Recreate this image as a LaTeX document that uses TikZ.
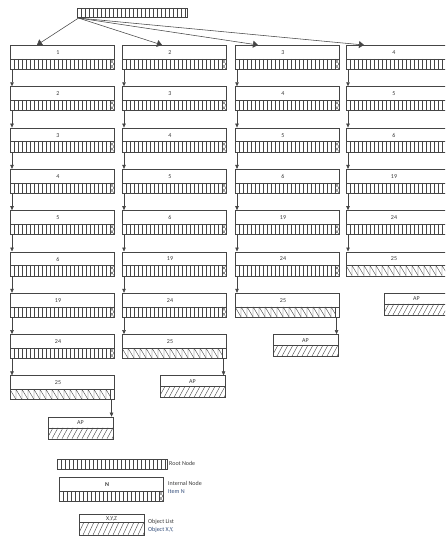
\documentclass[tikz,border=0pt]{standalone}
\usepackage{fontspec}
\setmainfont{Carlito}
\usetikzlibrary{arrows.meta,calc}
\definecolor{ln}{HTML}{454545}
\definecolor{tx}{HTML}{3A3A3A}
\definecolor{bl}{HTML}{2F4A78}
\tikzset{
  boxnode/.style={draw=ln, line width=0.55pt, rectangle, inner sep=0pt, anchor=north west, minimum width=104pt, minimum height=24pt},
  stripe/.style={draw=ln, line width=0.4pt},
  lbl/.style={text=tx, font=\fontsize{6}{7}\selectfont, inner sep=0pt},
  link/.style={draw=ln, line width=0.55pt, -{Triangle[width=3.5pt,length=4pt]}},
  rootlink/.style={draw=ln, line width=0.55pt, -{Triangle[width=7pt,length=5pt]}}
}
% internal node: name, left, top, label
\newcommand\mkinternal[4]{%
  \node[boxnode] (#1) at (#2,#3) {};
  \foreach \k in {1,...,24} \draw[stripe] (#2+4*\k,#3+14) -- (#2+4*\k,#3+24);
  \draw[stripe] (#2,#3+14) -- (#2+104,#3+14);
  \draw[stripe, line width=0.3pt] (#2+100,#3+14) -- (#2+104,#3+19) -- (#2+100,#3+24)
     (#2+104,#3+14) -- (#2+100,#3+19) -- (#2+104,#3+24);
  \draw[stripe] (#2+100,#3+14) -- (#2+100,#3+24);
  \node[lbl] (#1t) at (#2+48,#3+7.5) {#4};
}
% last internal node (hatched)
\newcommand\mklast[4]{%
  \node[boxnode] (#1) at (#2,#3) {};
  \begin{scope}
    \clip (#2,#3+14) rectangle (#2+100,#3+24);
    \foreach \k in {0,...,17} \draw[stripe] (#2+6*\k,#3+14) -- (#2+6*\k,#3+24) (#2+6*\k,#3+14) -- (#2+6*\k+6,#3+24);
  \end{scope}
  \draw[stripe] (#2,#3+14) -- (#2+104,#3+14) (#2+100,#3+14) -- (#2+100,#3+24);
  \node[lbl] (#1t) at (#2+48,#3+7.5) {#4};
}
% object list: name, left, top, top height, total height, label
\newcommand\mkobj[6]{%
  \node[boxnode, minimum width=65pt, minimum height=#5pt] (#1) at (#2,#3) {};
  \begin{scope}
    \clip (#2,#3+#4) rectangle (#2+65,#3+#5);
    \foreach \k in {0,...,15} \draw[stripe] (#2+5*\k-6,#3+#5) -- (#2+5*\k,#3+#4);
  \end{scope}
  \draw[stripe] (#2,#3+#4) -- (#2+65,#3+#4);
  \node[lbl] (#1t) at (#2+32.5,#3+#4/2+0.5) {#6};
}
% root node: name, left, top
\newcommand\mkroot[3]{%
  \node[boxnode, minimum width=110pt, minimum height=9.5pt] (#1) at (#2,#3) {};
  \foreach \k in {1,...,27} \draw[stripe] (#2+4*\k,#3) -- (#2+4*\k,#3+9.5);
}
\begin{document}
\begin{tikzpicture}[x=1pt,y=-1pt]
\useasboundingbox (0,0) rectangle (445,537);
\clip (0,0) rectangle (445,537);

\foreach \c/\L/\labs/\n in {1/10/{1,2,3,4,5,6,19,24}/8, 2/122/{2,3,4,5,6,19,24}/7, 3/235/{3,4,5,6,19,24}/6, 4/346/{4,5,6,19,24}/5}{
  \foreach \lab [count=\r from 0] in \labs {
    \pgfmathsetmacro\T{45+41.3*\r}
    \mkinternal{n\c-\r}{\L}{\T}{\lab}
    \ifnum\r>0
      \pgfmathtruncatemacro\p{\r-1}
      \draw[link] ($(n\c-\p.south west)+(2,0)$) -- ($(n\c-\r.north west)+(2,0)$);
    \fi
  }
  \pgfmathsetmacro\T{45+41.3*\n}
  \pgfmathtruncatemacro\p{\n-1}
  \mklast{n\c-\n}{\L}{\T}{25}
  \draw[link] ($(n\c-\p.south west)+(2,0)$) -- ($(n\c-\n.north west)+(2,0)$);
  \pgfmathsetmacro\T{45+41.3*(\n+1)}
  \mkobj{ap\c}{\L+38}{\T}{11}{22}{AP}
  \draw[link] ($(n\c-\n.south east)+(-3,0)$) -- ($(ap\c.north east)+(-2,0)$);
}

\mkroot{root}{77}{8}
\draw[rootlink] ($(root.south west)+(1.5,0)$) -- ($(n1-0.north west)+(27,0)$);
\draw[rootlink] ($(root.south west)+(1.5,0)$) -- ($(n2-0.north west)+(40,0)$);
\draw[rootlink] ($(root.south west)+(1.5,0)$) -- ($(n3-0.north west)+(23,0)$);
\draw[rootlink] ($(root.south west)+(1.5,0)$) -- ($(n4-0.north west)+(18,0)$);

% legend
\mkroot{lgroot}{57}{459}
\node[lbl, anchor=west] (lgroottxt) at (169,463.5) {Root Node};
\mkinternal{lgint}{59}{477}{\textbf{N}}
\node[lbl, anchor=west] (lginta) at (168,483) {Internal Node};
\node[lbl, anchor=west, text=bl] (lgintb) at (168,492) {Item N};
\mkobj{lgobj}{79}{514}{8}{21}{X,Y,Z}
\node[lbl, anchor=west] (lgobja) at (148,522) {Object List};
\node[lbl, anchor=west, text=bl] (lgobjb) at (148,530) {Object X,Y,};
\end{tikzpicture}
\end{document}
